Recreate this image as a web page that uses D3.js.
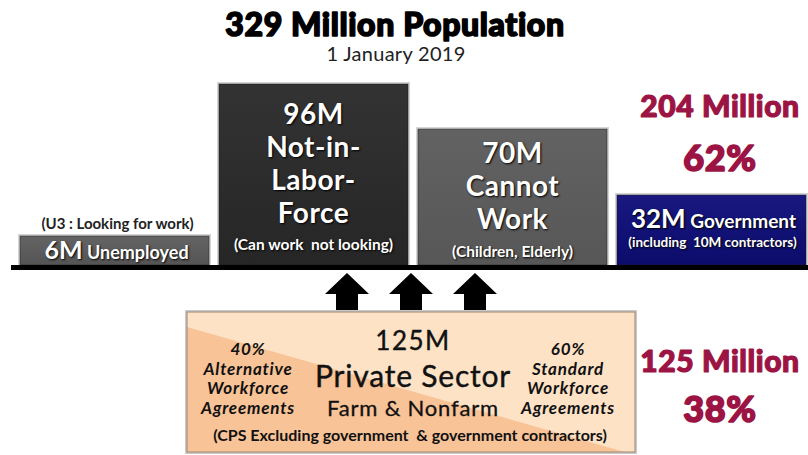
<!DOCTYPE html>
<html>
<head>
<meta charset="utf-8">
<script src="https://cdn.jsdelivr.net/npm/d3@7"></script>
<style>
  body { margin: 0; background: #fff; }
  text { font-family: Lato, "Open Sans", sans-serif; white-space: pre; }
  .white { fill: #fff; text-shadow: 1px 1px 2px #000; }
  .heavy { paint-order: stroke; stroke-linejoin: round; }
</style>
</head>
<body>
<div id="viz"></div>
<script>
// population breakdown, 1 January 2019 (millions)
var categories = ["Unemployed", "Not-in-Labor-Force", "Cannot Work", "Government"];
var values = [6, 96, 70, 32];
var notes = ["(U3 : Looking for work)", "(Can work  not looking)", "(Children, Elderly)", "(including  10M contractors)"];
var totals = ["204 Million", "125 Million"];
var shares = ["62%", "38%"];
var privateTotal = 125;
var privateSplit = [{pct: "40%", label: ["Alternative", "Workforce", "Agreements"]},
                    {pct: "60%", label: ["Standard", "Workforce", "Agreements"]}];

var width = 808, height = 455, base = 265;

var svg = d3.select("#viz")
  .append("svg")
    .attr("width", width)
    .attr("height", height);

var defs = svg.append("defs");
function grad(id, top, bottom) {
  var g = defs.append("linearGradient").attr("id", id)
    .attr("x1", 0).attr("y1", 0).attr("x2", 0).attr("y2", 1);
  g.append("stop").attr("offset", "0%").attr("stop-color", top);
  g.append("stop").attr("offset", "100%").attr("stop-color", bottom);
}
grad("g0", "#646464", "#545454");
grad("g1", "#333333", "#262626");
grad("g2", "#626262", "#575757");
grad("g3", "#181880", "#0c0c6c");

// x positions of the four bars
var x = d3.scaleBand()
  .domain(categories)
  .range([20, 806])
  .paddingInner(0.05);

// bar heights are not proportional in the graphic, piecewise scale
var y = d3.scaleLinear()
  .domain([0, 6, 32, 96])
  .range([base, base - 29, base - 70, base - 181]);

// title
svg.append("text")
  .attr("class", "heavy")
  .attr("x", 395).attr("y", 36)
  .attr("text-anchor", "middle")
  .style("font-size", "32px").style("font-weight", 900)
  .style("letter-spacing", "0.6px")
  .attr("stroke", "#000").attr("stroke-width", 1.6)
  .text("329 Million Population");
svg.append("text")
  .attr("x", 396).attr("y", 61)
  .attr("text-anchor", "middle")
  .style("font-size", "20px").style("fill", "#222")
  .style("letter-spacing", "0.3px")
  .text("1 January 2019");

// bars: light frame then fill
var bars = svg.append("g")
  .selectAll("g")
  .data(categories)
  .enter().append("g");
bars.append("rect")
  .attr("x", function(d) { return x(d) - 2; })
  .attr("y", function(d, i) { return y(values[i]) - 2; })
  .attr("width", x.bandwidth() + 4)
  .attr("height", function(d, i) { return base - y(values[i]) + 2; })
  .attr("fill", "#d4d4d4");
bars.append("rect")
  .attr("x", function(d) { return x(d); })
  .attr("y", function(d, i) { return y(values[i]); })
  .attr("width", x.bandwidth())
  .attr("height", function(d, i) { return base - y(values[i]); })
  .attr("fill", function(d, i) { return "url(#g" + i + ")"; })
  .attr("stroke", "#1a1a1a").attr("stroke-opacity", 0.5);

// baseline
svg.append("rect")
  .attr("x", 11).attr("y", base)
  .attr("width", width - 11).attr("height", 5)
  .attr("fill", "#000");

function cx(i) { return x(categories[i]) + x.bandwidth() / 2; }

// unemployed
svg.append("text")
  .attr("x", cx(0) + 3).attr("y", y(values[0]) - 7)
  .attr("text-anchor", "middle")
  .style("font-size", "15px").style("font-weight", 700).style("fill", "#222")
  .text(notes[0]);
var t0 = svg.append("text")
  .attr("class", "white")
  .attr("x", cx(0) + 2).attr("y", base - 6)
  .attr("text-anchor", "middle");
t0.append("tspan").style("font-size", "25px").style("font-weight", 700).text(values[0] + "M");
t0.append("tspan").style("font-size", "18px").style("font-weight", 700).text(" Unemployed");

// not in labor force
["96M", "Not-in-", "Labor-", "Force"].forEach(function(s, k) {
  svg.append("text")
    .attr("class", "white")
    .attr("x", cx(1)).attr("y", y(values[1]) + 40 + k * 33)
    .attr("text-anchor", "middle")
    .style("font-size", "28px").style("font-weight", 700)
    .style("letter-spacing", "0.5px")
    .text(k == 0 ? values[1] + "M" : s);
});
svg.append("text")
  .attr("class", "white")
  .attr("x", cx(1)).attr("y", base - 15)
  .attr("text-anchor", "middle")
  .style("font-size", "15.5px").style("font-weight", 700)
  .text(notes[1]);

// cannot work
["70M", "Cannot", "Work"].forEach(function(s, k) {
  svg.append("text")
    .attr("class", "white")
    .attr("x", cx(2)).attr("y", y(values[2]) + 34 + k * 33)
    .attr("text-anchor", "middle")
    .style("font-size", "28px").style("font-weight", 700)
    .style("letter-spacing", "0.5px")
    .text(k == 0 ? values[2] + "M" : s);
});
svg.append("text")
  .attr("class", "white")
  .attr("x", cx(2)).attr("y", base - 8)
  .attr("text-anchor", "middle")
  .style("font-size", "15.5px").style("font-weight", 700)
  .text(notes[2]);

// government
var t3 = svg.append("text")
  .attr("class", "white")
  .attr("x", cx(3) + 2).attr("y", base - 37)
  .attr("text-anchor", "middle");
t3.append("tspan").style("font-size", "26px").style("font-weight", 700).text(values[3] + "M");
t3.append("tspan").style("font-size", "19px").style("font-weight", 700).text(" Government");
svg.append("text")
  .attr("class", "white")
  .attr("x", cx(3) + 1).attr("y", base - 18)
  .attr("text-anchor", "middle")
  .style("font-size", "13.5px").style("font-weight", 700)
  .text(notes[3]);

// totals on the right
var maroon = "#9c1444";
[[totals[0], 117, 30, 1.2], [shares[0], 171, 36, 1.6], [totals[1], 372, 30, 1.2], [shares[1], 422, 36, 1.6]].forEach(function(t) {
  svg.append("text")
    .attr("class", "heavy")
    .attr("x", 720).attr("y", t[1])
    .attr("text-anchor", "middle")
    .style("font-size", t[2] + "px").style("font-weight", 900)
    .style("letter-spacing", "0.6px")
    .style("fill", maroon)
    .attr("stroke", maroon).attr("stroke-width", t[3])
    .text(t[0]);
});

// arrows up from private sector
var ax = d3.scalePoint().domain([0, 1, 2]).range([347, 475]);
svg.append("g").selectAll("path")
  .data([0, 1, 2])
  .enter().append("path")
    .attr("d", function(d) {
      var c = ax(d);
      return "M" + c + ",273 L" + (c + 22) + ",294 L" + (c + 11) + ",294 L" + (c + 11) + ",313 L" +
        (c - 11) + ",313 L" + (c - 11) + ",294 L" + (c - 22) + ",294 Z";
    })
    .attr("fill", "#000");

// private sector box
var bx = 187, by = 312, bw = 448, bh = 140;
defs.append("clipPath").attr("id", "boxclip")
  .append("rect").attr("x", bx).attr("y", by).attr("width", bw).attr("height", bh);
svg.append("rect")
  .attr("x", bx - 2).attr("y", by - 2).attr("width", bw + 4).attr("height", bh + 4)
  .attr("fill", "#c9c9c9");
svg.append("rect")
  .attr("x", bx).attr("y", by).attr("width", bw).attr("height", bh)
  .attr("fill", "#fde2c6");
svg.append("path")
  .attr("clip-path", "url(#boxclip)")
  .attr("d", "M" + bx + "," + (by + 15) + " L" + (bx + bw) + "," + (by + bh + 3) + " L" + bx + "," + (by + bh + 3) + " Z")
  .attr("fill", "#f8c397");
svg.append("rect")
  .attr("x", bx).attr("y", by).attr("width", bw).attr("height", bh)
  .attr("fill", "none").attr("stroke", "#a08670").attr("stroke-width", 1);

var pcx = bx + bw / 2 + 2;
svg.append("text")
  .attr("x", pcx).attr("y", 350).attr("text-anchor", "middle")
  .style("font-size", "26px").style("fill", "#111")
  .style("letter-spacing", "1.5px")
  .attr("stroke", "#111").attr("stroke-width", 0.4)
  .text(privateTotal + "M");
svg.append("text")
  .attr("x", pcx).attr("y", 387).attr("text-anchor", "middle")
  .style("font-size", "30px").style("fill", "#111")
  .style("letter-spacing", "0.8px")
  .attr("stroke", "#111").attr("stroke-width", 0.4)
  .text("Private Sector");
svg.append("text")
  .attr("x", pcx).attr("y", 416).attr("text-anchor", "middle")
  .style("font-size", "22px").style("fill", "#111")
  .style("letter-spacing", "0.8px")
  .attr("stroke", "#111").attr("stroke-width", 0.3)
  .text("Farm & Nonfarm");
svg.append("text")
  .attr("x", bx + bw / 2 - 1).attr("y", 441).attr("text-anchor", "middle")
  .style("font-size", "16px").style("font-weight", 700).style("fill", "#111")
  .text("(CPS Excluding government  & government contractors)");

[248, 568].forEach(function(sx, i) {
  var lines = [privateSplit[i].pct].concat(privateSplit[i].label);
  lines.forEach(function(s, k) {
    svg.append("text")
      .attr("x", sx).attr("y", 355 + k * 19.5).attr("text-anchor", "middle")
      .style("font-size", "17px").style("font-weight", 700).style("font-style", "italic")
      .style("letter-spacing", "0.8px")
      .style("fill", "#111")
      .text(s);
  });
});
</script>
</body>
</html>
